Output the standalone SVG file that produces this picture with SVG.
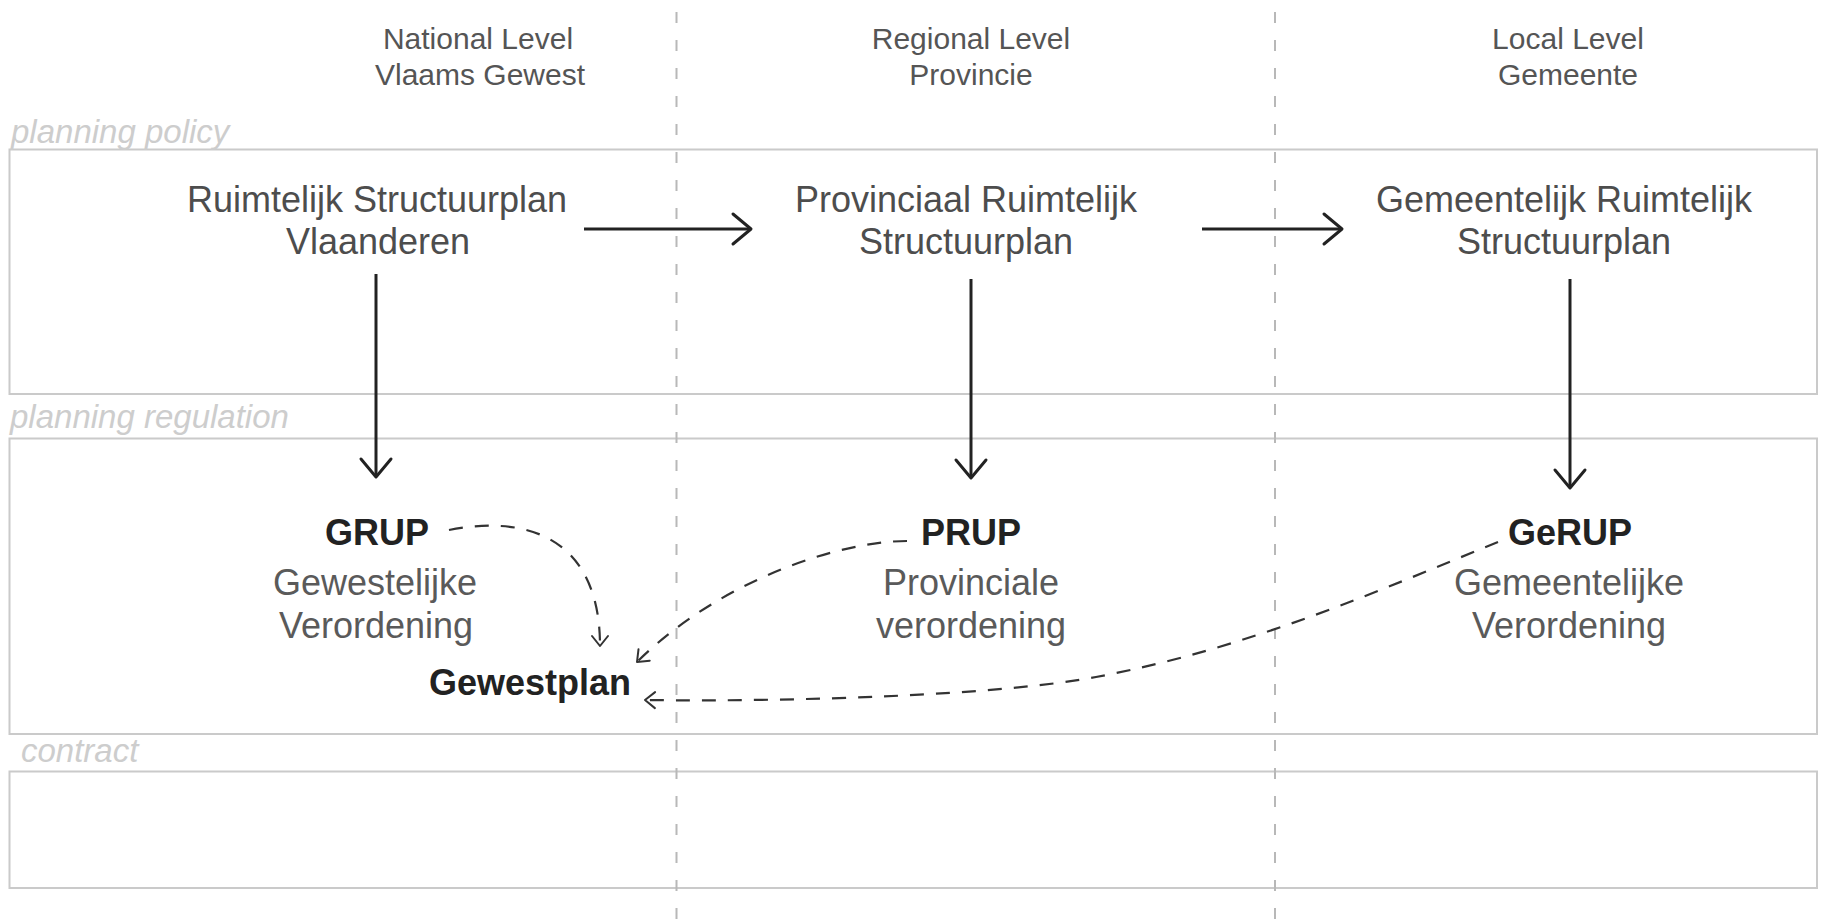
<svg xmlns="http://www.w3.org/2000/svg" width="1823" height="924" viewBox="0 0 1823 924">
  <style>
    text { font-family: "Liberation Sans", Arial, Helvetica, sans-serif; }
    .hdr { font-size: 30px; fill: #555; text-anchor: middle; }
    .big { font-size: 36px; fill: #4d4d4d; text-anchor: middle; }
    .sub { font-size: 36px; fill: #5a5a5a; text-anchor: middle; }
    .bold { font-size: 36px; font-weight: bold; fill: #222; text-anchor: middle; }
    .lane { font-size: 33px; font-style: italic; fill: #cdcdcd; }
    .box { fill: none; stroke: #cacaca; stroke-width: 2; }
    .col { stroke: #b8b8b8; stroke-width: 2; stroke-dasharray: 11 17; fill: none; }
    .solid { stroke: #222; stroke-width: 3; fill: none; marker-end: url(#arrow); }
    .dash { stroke: #333; stroke-width: 2.2; fill: none; stroke-dasharray: 14 12; marker-end: url(#arrowSmall); }
  </style>
  <defs>
    <marker id="arrow" markerUnits="userSpaceOnUse" markerWidth="40" markerHeight="40" refX="0" refY="0" orient="auto" overflow="visible">
      <path d="M-18,-15 L0,0 L-18,15" fill="none" stroke="#222" stroke-width="3" stroke-linecap="round" stroke-linejoin="round"/>
    </marker>
    <marker id="arrowSmall" markerUnits="userSpaceOnUse" markerWidth="24" markerHeight="24" refX="0" refY="0" orient="auto" overflow="visible">
      <path d="M-10,-8 L0,0 L-10,8" fill="none" stroke="#333" stroke-width="2" stroke-linecap="round" stroke-linejoin="round"/>
    </marker>
  </defs>
  <rect width="1823" height="924" fill="#ffffff"/>

  <g id="lanes">
    <rect class="box" x="9.5" y="149.5" width="1807.5" height="244.5"/>
    <rect class="box" x="9.5" y="438.5" width="1807.5" height="295.5"/>
    <rect class="box" x="9.5" y="771.5" width="1807.5" height="116.5"/>
    <text class="lane" x="11" y="143">planning policy</text>
    <text class="lane" x="10" y="428">planning regulation</text>
    <text class="lane" x="21" y="762">contract</text>
  </g>

  <g id="columns">
    <line class="col" x1="676.5" y1="12" x2="676.5" y2="924"/>
    <line class="col" x1="1275" y1="12" x2="1275" y2="924"/>
  </g>

  <g id="header-national">
    <text class="hdr" x="478" y="49">National Level</text>
    <text class="hdr" x="480" y="85">Vlaams Gewest</text>
  </g>
  <g id="header-regional">
    <text class="hdr" x="971" y="49">Regional Level</text>
    <text class="hdr" x="971" y="85">Provincie</text>
  </g>
  <g id="header-local">
    <text class="hdr" x="1568" y="49">Local Level</text>
    <text class="hdr" x="1568" y="85">Gemeente</text>
  </g>

  <g id="node-rsv">
    <text class="big" x="377" y="212">Ruimtelijk Structuurplan</text>
    <text class="big" x="378" y="254">Vlaanderen</text>
  </g>
  <g id="node-prs">
    <text class="big" x="966" y="212">Provinciaal Ruimtelijk</text>
    <text class="big" x="966" y="254">Structuurplan</text>
  </g>
  <g id="node-grs">
    <text class="big" x="1564" y="212">Gemeentelijk Ruimtelijk</text>
    <text class="big" x="1564" y="254">Structuurplan</text>
  </g>

  <g id="node-grup">
    <text class="bold" x="377" y="545">GRUP</text>
    <text class="sub" x="375" y="595">Gewestelijke</text>
    <text class="sub" x="376" y="638">Verordening</text>
  </g>
  <g id="node-prup">
    <text class="bold" x="971" y="545">PRUP</text>
    <text class="sub" x="971" y="595">Provinciale</text>
    <text class="sub" x="971" y="638">verordening</text>
  </g>
  <g id="node-gerup">
    <text class="bold" x="1570" y="545">GeRUP</text>
    <text class="sub" x="1569" y="595">Gemeentelijke</text>
    <text class="sub" x="1569" y="638">Verordening</text>
  </g>
  <g id="node-gewestplan">
    <text class="bold" x="530" y="695">Gewestplan</text>
  </g>

  <g id="connectors">
    <line class="solid" x1="584" y1="229" x2="751" y2="229"/>
    <line class="solid" x1="1202" y1="229" x2="1342" y2="229"/>
    <line class="solid" x1="376" y1="274" x2="376" y2="477"/>
    <line class="solid" x1="971" y1="279" x2="971" y2="478"/>
    <line class="solid" x1="1570" y1="279" x2="1570" y2="488"/>
    <path class="dash" d="M449,530 C530,514 600,540 600,646"/>
    <path class="dash" d="M907,541 C840,541 720,580 637,662"/>
    <path class="dash" d="M1498,542 C1380,590 1250,648 1096,677 C1000,695 800,702 645,700"/>
  </g>
</svg>
